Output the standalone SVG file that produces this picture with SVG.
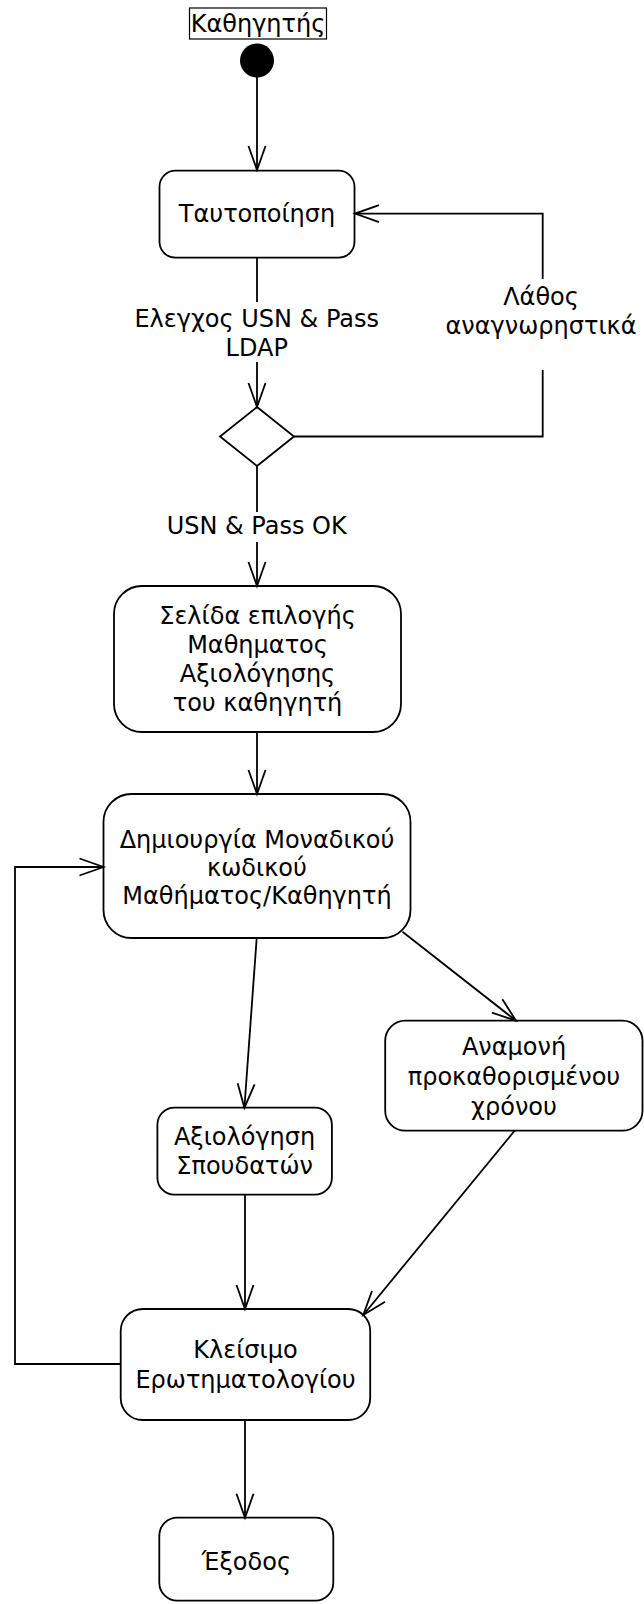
<svg xmlns="http://www.w3.org/2000/svg" width="644" height="1604" viewBox="0 0 644 1604">
  <defs>
    <style>
      .node { fill: #ffffff; stroke: #000000; stroke-width: 1.8; }
      .lbl { font-family: "DejaVu Sans", Verdana, sans-serif; font-size: 24px; fill: #000000; text-anchor: middle; }
      .edge { fill: none; stroke: #000000; stroke-width: 1.8; }
    </style>
    <marker id="open-arrow" markerUnits="userSpaceOnUse" markerWidth="30" markerHeight="24" refX="0" refY="0" viewBox="-27 -12 30 24" orient="auto" overflow="visible">
      <path d="M-24,-8.5 L0,0 L-24,8.5" fill="none" stroke="#000000" stroke-width="1.8"/>
    </marker>
  </defs>

  <!-- swimlane actor label -->
  <g id="actor">
    <rect x="189.5" y="8" width="137" height="31" fill="#ffffff" stroke="#000000" stroke-width="1.2"/>
    <text class="lbl" x="258" y="31.5">Καθηγητής</text>
  </g>

  <g id="start">
    <circle cx="257" cy="60.5" r="17" fill="#000000"/>
  </g>

  <g id="identification">
    <rect class="node" x="159.5" y="170.7" width="195" height="87" rx="16"/>
    <text class="lbl" x="257" y="222">Ταυτοποίηση</text>
  </g>

  <g id="decision">
    <polygon class="node" points="257,407 294,436.5 257,466 220,436.5"/>
  </g>

  <g id="course-selection">
    <rect class="node" x="114" y="586" width="287" height="146" rx="28"/>
    <text class="lbl" x="257.5" y="624">Σελίδα επιλογής</text>
    <text class="lbl" x="257.5" y="653">Μαθηματος</text>
    <text class="lbl" x="257.5" y="682">Αξιολόγησης</text>
    <text class="lbl" x="257.5" y="711">του καθηγητή</text>
  </g>

  <g id="create-code">
    <rect class="node" x="103.5" y="794" width="307" height="144" rx="28"/>
    <text class="lbl" x="257" y="848">Δημιουργία Μοναδικού</text>
    <text class="lbl" x="257" y="876">κωδικού</text>
    <text class="lbl" x="257" y="904">Μαθήματος/Καθηγητή</text>
  </g>

  <g id="student-evaluation">
    <rect class="node" x="157.4" y="1107.7" width="174.5" height="87" rx="17"/>
    <text class="lbl" x="244.6" y="1145">Αξιολόγηση</text>
    <text class="lbl" x="244.6" y="1174">Σπουδατών</text>
  </g>

  <g id="wait">
    <rect class="node" x="385.2" y="1020.7" width="257.3" height="110" rx="20"/>
    <text class="lbl" x="514" y="1055">Αναμονή</text>
    <text class="lbl" x="514" y="1085">προκαθορισμένου</text>
    <text class="lbl" x="514" y="1115">χρόνου</text>
  </g>

  <g id="close-questionnaire">
    <rect class="node" x="120.7" y="1309" width="249.5" height="111" rx="22"/>
    <text class="lbl" x="245.5" y="1358">Κλείσιμο</text>
    <text class="lbl" x="245.5" y="1388">Ερωτηματολογίου</text>
  </g>

  <g id="exit">
    <rect class="node" x="159.3" y="1517.7" width="174" height="83" rx="18"/>
    <text class="lbl" x="246.3" y="1570">Έξοδος</text>
  </g>

  <!-- transitions -->
  <g id="connectors">
    <path class="edge" d="M257,77 V170" marker-end="url(#open-arrow)"/>

    <path class="edge" d="M257,257.6 V302"/>
    <path class="edge" d="M257,362 V407" marker-end="url(#open-arrow)"/>
    <text class="lbl" x="256.7" y="327">Ελεγχος USN &amp; Pass</text>
    <text class="lbl" x="256.7" y="356">LDAP</text>

    <path class="edge" d="M294,436.5 H542.7 V370"/>
    <path class="edge" d="M542.7,279 V213.6 H355" marker-end="url(#open-arrow)"/>
    <text class="lbl" x="541" y="305">Λάθος</text>
    <text class="lbl" x="541" y="334">αναγνωρηστικά</text>

    <path class="edge" d="M257,466 V512"/>
    <path class="edge" d="M257,542 V586" marker-end="url(#open-arrow)"/>
    <text class="lbl" x="256.7" y="534">USN &amp; Pass OK</text>

    <path class="edge" d="M257,732 V794" marker-end="url(#open-arrow)"/>

    <path class="edge" d="M256.7,938 L244.4,1107.7" marker-end="url(#open-arrow)"/>
    <path class="edge" d="M402.5,931.7 L516,1020.7" marker-end="url(#open-arrow)"/>

    <path class="edge" d="M245,1194.7 V1309" marker-end="url(#open-arrow)"/>
    <path class="edge" d="M514.6,1130.7 L363.3,1315" marker-end="url(#open-arrow)"/>

    <path class="edge" d="M245,1420 V1517.7" marker-end="url(#open-arrow)"/>

    <path class="edge" d="M120.7,1364 H15 V867 H103.5" marker-end="url(#open-arrow)"/>
  </g>
</svg>
